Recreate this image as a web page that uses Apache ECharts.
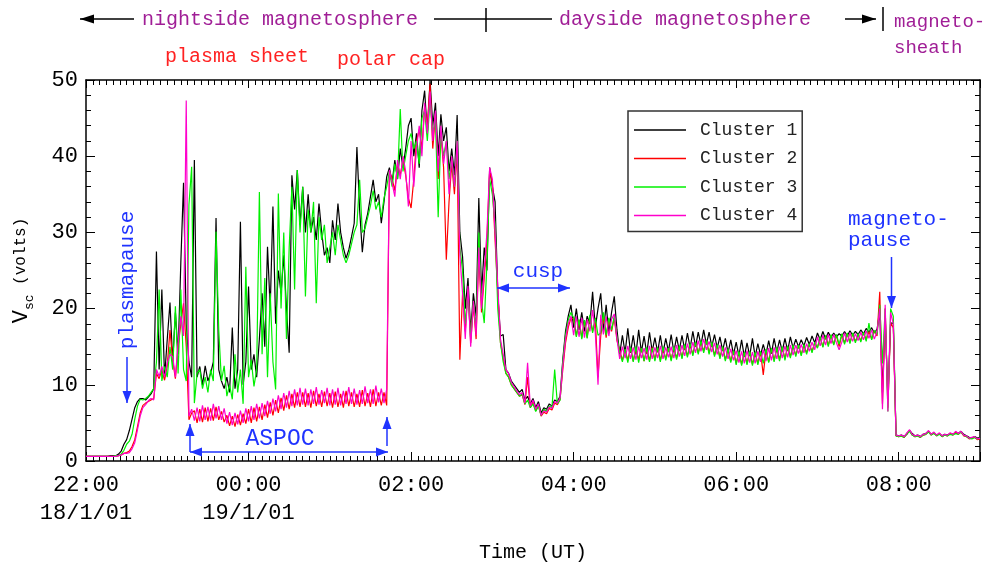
<!DOCTYPE html>
<html>
<head>
<meta charset="utf-8">
<script src="https://cdn.jsdelivr.net/npm/echarts@6/dist/echarts.min.js"></script>
<style>
html,body{margin:0;padding:0;background:#ffffff;}
#chart{width:1002px;height:568px;}
</style>
</head>
<body>
<div id="chart"></div>
<script>
// ---------------- data ----------------
// samples every 2 minutes starting at 22:00 UT on 18/1/01 (x = minutes after 22:00)
const SAMPLE_STEP_MIN = 2;
const seriesNames = ['Cluster 1', 'Cluster 2', 'Cluster 3', 'Cluster 4'];
const seriesColors = ['#000000', '#ff0000', '#00f000', '#ff00cc'];
const tickLabels = ['22:00\n18/1/01', '00:00\n19/1/01', '02:00', '04:00', '06:00', '08:00'];
const yTickLabels = ['0', '10', '20', '30', '40', '50'];

const cluster1 = [
  0.6,0.6,0.6,0.6,0.6,0.6,0.6,0.6,0.6,0.7,
  0.7,0.7,0.9,1.3,2.2,2.8,4.0,5.5,7.0,7.8,
  8.2,8.2,8.0,8.4,8.8,9.5,27.5,12.0,22.5,11.0,
  16.0,20.8,13.0,19.5,14.0,26.0,36.5,18.0,13.0,11.0,
  39.5,11.0,12.4,10.0,12.5,10.5,11.5,13.0,31.9,12.0,
  10.5,9.5,11.0,9.0,17.5,9.5,12.0,31.4,10.0,13.0,
  22.9,12.0,14.0,11.0,16.0,22.0,15.0,28.1,20.0,33.4,
  18.0,25.0,22.0,27.0,20.0,14.2,37.5,33.0,38.2,31.0,
  36.0,30.0,35.0,30.0,32.0,29.0,33.8,30.0,27.0,28.0,
  26.0,31.6,29.0,33.8,30.0,28.0,26.6,27.7,29.4,31.2,
  41.2,33.0,27.4,31.0,32.5,34.7,36.9,34.0,35.0,31.2,
  34.0,37.3,38.5,36.5,39.5,37.0,41.0,38.5,41.0,44.0,
  45.0,40.0,43.0,38.5,46.0,48.6,43.0,50.0,44.0,47.0,
  40.0,45.5,42.0,43.8,38.0,41.0,37.5,45.4,30.0,26.8,
  20.0,24.0,17.0,22.0,19.0,34.5,22.0,28.0,25.0,38.5,
  36.0,34.0,22.0,16.4,16.6,12.0,11.5,10.5,10.0,9.5,
  9.0,9.4,8.0,8.5,7.5,8.2,7.0,7.8,6.3,7.0,
  6.8,7.5,7.2,8.0,7.8,8.5,13.3,17.0,19.0,20.5,
  17.5,20.0,17.2,19.5,17.0,19.0,18.0,22.2,17.5,20.0,
  22.0,17.0,20.5,16.8,19.5,21.6,17.2,14.0,16.5,14.2,
  17.4,14.2,16.5,14.0,17.2,14.3,16.4,14.1,16.9,14.4,
  16.2,14.3,16.5,14.2,16.1,14.4,16.6,14.3,16.3,14.5,
  16.5,14.6,16.8,14.8,17.0,15.0,16.9,15.2,17.2,15.3,
  16.9,15.0,16.6,14.8,16.3,14.5,16.1,14.2,15.9,14.0,
  15.6,13.8,15.9,13.7,15.5,13.8,16.1,13.7,15.4,13.9,
  15.3,14.0,15.8,14.1,16.1,14.3,15.9,14.4,16.1,14.5,
  16.3,14.8,16.0,15.0,15.9,15.1,16.2,15.3,16.4,15.5,
  16.8,15.9,17.0,16.0,16.9,16.2,16.8,16.3,16.7,16.4,
  17.0,16.4,17.1,16.5,17.0,16.6,17.2,16.7,17.4,16.9,
  17.5,16.8,17.3,19.5,9.0,19.0,8.0,18.1,18.1,3.4,
  3.3,3.4,3.2,3.5,4.0,3.6,3.3,3.4,3.2,3.5,
  3.6,3.9,3.5,3.7,3.4,3.6,3.3,3.5,3.4,3.6,
  3.5,3.7,3.6,3.9,3.5,3.3,3.1,3.0,3.2,3.0,
  3.1
];

const cluster2 = [
  0.6,0.6,0.6,0.6,0.6,0.6,0.6,0.6,0.6,0.6,
  0.6,0.6,0.7,0.8,1.0,1.1,1.3,1.9,2.8,4.5,
  6.3,7.3,7.6,7.8,8.0,8.2,11.5,10.8,12.0,10.6,
  12.5,17.2,13.2,10.8,15.0,18.0,20.7,15.0,5.4,6.3,
  6.6,5.0,6.8,5.1,7.0,5.2,6.9,5.3,7.1,5.4,
  6.5,5.1,6.0,4.6,5.9,4.5,6.1,4.7,6.2,4.9,
  6.8,5.0,7.0,5.2,7.1,5.4,7.4,5.7,7.7,6.0,
  8.0,6.3,8.3,6.6,8.6,6.8,8.8,7.0,9.0,7.1,
  9.0,7.1,8.9,7.0,9.2,7.2,8.8,7.1,9.1,7.2,
  8.9,7.0,9.1,7.1,8.8,7.0,9.2,7.2,9.0,7.1,
  8.8,7.1,9.3,7.2,8.9,7.1,9.4,7.2,9.0,7.3,
  9.0,7.3,38.0,37.0,35.5,39.0,37.5,39.5,37.5,34.5,
  33.2,37.0,42.0,43.5,41.0,46.5,44.0,49.5,41.0,45.5,
  37.0,43.0,38.5,26.4,34.0,39.0,35.0,41.0,13.3,22.0,
  17.0,22.5,15.5,20.5,16.0,27.0,19.5,24.0,29.0,38.0,
  36.5,29.0,22.0,15.5,13.5,11.5,11.0,10.0,9.5,9.0,
  8.5,8.7,7.4,11.0,7.0,7.8,6.6,7.3,5.9,6.4,
  6.2,6.9,6.7,7.6,7.4,8.1,12.0,15.5,17.5,18.8,
  18.6,16.4,18.5,16.2,18.3,16.2,19.0,17.0,18.5,11.0,
  16.4,18.9,16.2,18.7,17.0,18.8,15.8,14.5,13.2,14.6,
  13.2,14.8,13.1,14.7,13.3,14.8,13.1,14.6,13.2,14.9,
  13.3,14.8,13.2,14.7,13.4,14.8,13.3,14.9,13.5,14.9,
  13.6,15.1,13.8,15.3,14.0,15.5,14.2,15.6,14.4,15.8,
  14.2,15.5,13.9,15.2,13.6,14.9,13.3,14.6,13.1,14.4,
  12.8,14.3,12.7,14.2,12.8,14.3,12.7,14.2,12.8,14.3,
  11.3,14.6,13.0,14.7,13.2,14.8,13.3,14.9,13.4,15.0,
  13.7,15.1,13.9,15.1,14.0,15.2,14.2,15.3,14.4,15.5,
  14.9,16.2,15.0,16.4,15.2,16.5,15.3,16.5,15.0,16.6,
  15.5,16.7,15.6,16.7,15.7,16.6,15.8,16.8,15.9,17.0,
  16.0,17.1,16.4,22.2,7.5,20.0,7.0,18.1,17.5,3.3,
  3.2,3.3,3.1,3.6,4.0,3.4,3.2,3.3,3.1,3.4,
  3.5,3.9,3.4,3.7,3.3,3.6,3.2,3.4,3.3,3.6,
  3.4,3.8,3.5,3.8,3.3,3.2,2.9,3.0,3.1,2.8,
  2.9
];

const cluster3 = [
  0.6,0.6,0.6,0.6,0.6,0.6,0.6,0.6,0.6,0.6,
  0.6,0.7,0.7,0.9,1.4,2.2,2.6,3.5,5.5,7.2,
  8.1,8.0,8.2,8.5,9.0,9.5,13.0,22.5,10.5,12.4,
  11.0,15.0,12.0,20.3,11.5,22.5,12.0,10.5,33.6,38.6,
  7.6,11.5,12.0,9.5,11.0,9.0,12.0,10.5,30.1,17.2,
  10.5,12.5,8.5,10.0,8.1,14.0,9.0,12.0,7.5,25.5,
  11.0,13.3,9.8,12.0,35.3,14.0,24.0,11.0,22.0,13.0,
  9.4,35.1,20.0,30.0,16.0,28.0,36.0,22.5,38.2,30.0,
  36.0,21.6,33.0,30.0,34.0,20.7,32.0,29.0,31.0,26.0,
  28.0,30.0,27.0,31.0,29.0,27.0,26.0,27.0,28.5,30.0,
  31.0,36.9,30.0,30.5,32.0,33.5,35.5,33.0,34.0,32.0,
  34.5,36.0,38.0,36.0,39.0,37.0,46.2,38.0,40.0,42.0,
  43.0,41.0,42.0,39.0,45.0,46.0,42.0,47.5,43.0,45.0,
  32.0,43.0,40.0,42.0,37.0,39.5,36.0,42.0,28.0,25.0,
  18.0,22.0,16.0,21.0,17.5,30.0,21.0,18.1,26.0,37.0,
  35.0,31.0,20.0,15.5,13.0,11.5,11.0,10.0,9.5,9.0,
  8.5,8.8,7.5,8.0,7.0,7.5,6.5,7.2,6.0,6.8,
  6.5,7.2,7.0,12.0,7.5,8.0,13.0,16.5,18.5,19.5,
  18.8,16.3,18.6,16.0,18.5,16.1,19.2,16.8,18.8,16.5,
  16.8,19.5,16.5,18.8,17.2,19.0,16.2,14.3,13.0,14.7,
  12.9,14.9,13.0,15.0,12.9,14.8,13.1,14.9,13.0,14.8,
  13.1,14.9,13.0,15.0,13.2,14.8,13.1,15.0,13.3,15.1,
  13.4,15.3,13.6,15.4,13.8,15.6,14.0,15.8,14.2,15.9,
  14.0,15.6,13.7,15.3,13.4,15.0,13.1,14.7,12.9,14.5,
  12.6,14.4,12.5,14.3,12.6,14.4,12.5,14.3,12.6,14.4,
  12.8,14.7,12.9,14.8,13.0,14.9,13.1,15.0,13.2,15.1,
  13.5,15.2,13.7,15.2,13.8,15.3,14.0,15.4,14.2,15.6,
  14.8,16.3,14.9,16.5,15.0,16.6,15.2,16.6,15.3,16.7,
  15.3,16.8,15.4,16.8,15.5,16.7,15.6,16.9,15.7,18.1,
  15.9,17.1,16.6,20.5,12.8,20.0,6.5,20.0,19.0,3.3,
  3.2,3.3,3.1,3.6,3.9,3.4,3.2,3.3,3.1,3.4,
  3.5,3.8,3.4,3.6,3.3,3.5,3.2,3.4,3.3,3.5,
  3.4,3.6,3.5,3.8,3.4,3.2,3.0,2.9,3.1,2.9,
  3.0
];

const cluster4 = [
  0.6,0.6,0.6,0.6,0.6,0.6,0.6,0.6,0.6,0.6,
  0.6,0.6,0.7,0.8,1.0,1.0,1.1,1.6,2.4,4.1,
  5.9,7.0,7.4,7.9,8.2,8.0,12.0,11.1,12.4,11.0,
  12.9,14.0,13.7,11.0,15.5,19.0,16.4,47.3,5.9,6.8,
  5.3,7.0,5.2,7.3,5.4,7.1,5.3,7.5,5.6,7.2,
  5.4,6.9,4.9,6.4,4.7,6.3,4.8,6.6,5.0,6.9,
  5.2,7.2,5.4,7.5,5.6,7.6,5.9,7.9,6.2,8.2,
  6.5,8.6,6.8,8.9,7.0,9.2,7.2,9.4,7.3,9.6,
  7.4,9.5,7.3,9.4,7.5,9.7,7.4,9.3,7.6,9.6,
  7.3,9.4,7.4,9.6,7.3,9.2,7.5,9.7,7.5,9.5,
  7.4,9.3,7.5,9.8,7.6,9.4,7.5,9.9,7.7,9.5,
  7.6,9.4,38.2,36.5,34.7,39.5,37.0,40.0,38.0,33.4,
  42.0,36.0,41.0,44.0,40.0,47.0,43.0,48.5,42.0,46.0,
  38.0,44.0,39.0,42.0,35.0,40.0,36.0,42.0,27.0,22.0,
  16.0,23.0,15.0,21.0,16.5,28.0,20.0,25.0,30.0,38.5,
  37.0,30.0,23.0,16.0,14.0,12.0,11.5,10.3,9.8,9.2,
  8.7,9.0,7.6,12.9,7.2,8.0,6.8,7.5,6.0,6.6,
  6.4,7.1,6.9,7.8,7.6,8.3,12.5,16.0,18.0,19.0,
  16.5,19.0,16.3,18.8,16.2,18.6,17.0,19.8,16.8,10.0,
  19.2,16.6,19.0,16.4,18.6,19.3,16.0,13.4,15.0,13.5,
  15.1,13.4,14.9,13.3,15.0,13.5,14.8,13.3,15.1,13.4,
  14.9,13.5,15.1,13.4,14.9,13.6,15.0,13.5,15.2,13.7,
  15.2,13.8,15.4,14.0,15.6,14.2,15.8,14.4,16.0,14.6,
  15.7,14.3,15.5,14.0,15.2,13.7,14.9,13.4,14.7,13.2,
  14.5,12.9,14.4,12.8,14.5,12.9,14.3,12.8,14.4,13.0,
  14.6,13.1,14.8,13.2,14.9,13.4,15.0,13.5,15.1,13.6,
  15.2,13.9,15.2,14.1,15.3,14.2,15.4,14.4,15.6,14.6,
  16.3,15.1,16.5,15.2,16.6,15.4,16.6,15.5,14.6,15.6,
  16.8,15.6,16.8,15.7,16.7,15.8,16.9,15.9,17.1,16.1,
  17.2,16.0,17.0,20.0,6.8,20.5,6.5,19.5,18.0,3.4,
  3.3,3.4,3.2,3.7,4.1,3.5,3.3,3.4,3.2,3.5,
  3.6,4.0,3.5,3.8,3.4,3.7,3.3,3.5,3.4,3.7,
  3.5,3.9,3.6,3.9,3.4,3.3,3.0,3.1,3.2,2.9,
  3.0
];

const seriesValues = [cluster1, cluster2, cluster3, cluster4];

// ---------------- chart ----------------
const FONT = '"Liberation Mono", "DejaVu Sans Mono", monospace';
const PURPLE = '#a01e96';
const RED = '#ff2222';
const BLUE = '#1f33ff';

const chart = echarts.init(document.getElementById('chart'), null, {renderer: 'canvas'});

function toPairs(values) {
  return values.map((v, i) => [i * SAMPLE_STEP_MIN, v]);
}

function arrowHead(tipX, tipY, fromX, fromY, color, len, hw) {
  const dx = tipX - fromX, dy = tipY - fromY;
  const d = Math.sqrt(dx * dx + dy * dy);
  const ux = dx / d, uy = dy / d;
  const bx = tipX - ux * len, by = tipY - uy * len;
  const nx = -uy, ny = ux;
  return {
    type: 'polygon', silent: true, z: 100,
    shape: {points: [[tipX, tipY], [bx + nx * hw, by + ny * hw], [bx - nx * hw, by - ny * hw]]},
    style: {fill: color}
  };
}
function seg(x1, y1, x2, y2, color, w) {
  return {type: 'line', silent: true, z: 100, shape: {x1, y1, x2, y2}, style: {stroke: color, lineWidth: w || 1.5}};
}
function arrow(x1, y1, x2, y2, color, both, len, hw) {
  len = len || 12; hw = hw || 4.5;
  const out = [seg(x1, y1, x2, y2, color)];
  out.push(arrowHead(x2, y2, x1, y1, color, len, hw));
  if (both) out.push(arrowHead(x1, y1, x2, y2, color, len, hw));
  return out;
}
function txt(text, x, y, color, size, align, rot) {
  const el = {
    type: 'text', silent: true, z: 100, x, y,
    style: {text, fill: color, font: size + 'px ' + FONT, align: align || 'left', verticalAlign: 'middle'}
  };
  if (rot) { el.rotation = rot; }
  return el;
}

const graphics = [].concat(
  // top region labels
  arrow(134, 19, 80, 19, '#000', false, 14, 4.5),
  [txt('nightside magnetosphere', 142, 20, PURPLE, 20)],
  [seg(434, 19, 552, 19, '#000'), seg(486, 8, 486, 32, '#000')],
  [txt('dayside magnetosphere', 559, 20, PURPLE, 20)],
  arrow(845, 19, 876, 19, '#000', false, 14, 4.5),
  [seg(883, 7, 883, 31, '#000')],
  [txt('magneto-', 894, 22, PURPLE, 19), txt('sheath', 894, 48, PURPLE, 19)],
  [txt('plasma sheet', 165, 57, RED, 20), txt('polar cap', 337, 60, RED, 20)],
  // plasmapause
  [txt('plasmapause', 127, 280, BLUE, 21, 'center', Math.PI / 2)],
  arrow(127, 357, 127, 403, BLUE),
  // ASPOC
  [txt('ASPOC', 280, 439, BLUE, 23, 'center')],
  arrow(190, 452, 388, 452, BLUE, true),
  arrow(190, 452, 190, 424, BLUE),
  arrow(387, 446, 387, 417, BLUE),
  // cusp
  [txt('cusp', 538, 271, BLUE, 21, 'center')],
  arrow(497, 288, 570, 288, BLUE, true),
  // magnetopause
  [txt('magneto-', 848, 219, BLUE, 21), txt('pause', 848, 240, BLUE, 21)],
  arrow(891.5, 257, 891.5, 308, BLUE)
);

const axisLineStyle = {color: '#000', width: 1.5};
const tickLine = {color: '#000', width: 1};

const option = {
  animation: false,
  backgroundColor: '#ffffff',
  textStyle: {fontFamily: FONT},
  grid: {left: 86, right: 22, top: 80, bottom: 105, containLabel: false},
  legend: {
    data: seriesNames,
    orient: 'vertical',
    left: 628, top: 111,
    icon: 'rect',
    itemWidth: 52, itemHeight: 1.6, itemGap: 10.5,
    padding: [10, 5, 7, 6],
    borderColor: '#333', borderWidth: 1.5, backgroundColor: '#ffffff',
    selectedMode: false,
    textStyle: {fontFamily: FONT, fontSize: 18, color: '#222', lineHeight: 18, padding: [0, 0, 0, 9]}
  },
  xAxis: [
    {
      type: 'value', position: 'bottom', min: 0, max: 660, interval: 60,
      axisLine: {show: true, lineStyle: axisLineStyle, onZero: false},
      axisTick: {show: true, inside: true, length: 5, lineStyle: tickLine},
      minorTick: {show: true, splitNumber: 12, length: 5, lineStyle: tickLine},
      axisLabel: {show: false}, splitLine: {show: false}
    },
    {
      type: 'value', position: 'bottom', min: 0, max: 660, interval: 120,
      axisLine: {show: false, onZero: false},
      axisTick: {show: true, inside: true, length: 9, lineStyle: tickLine},
      axisLabel: {
        show: true, margin: 10, color: '#000', fontFamily: FONT, fontSize: 22, lineHeight: 28,
        formatter: function (v) { const k = Math.round(v / 120); return (v % 120 === 0 && tickLabels[k]) ? tickLabels[k] : ''; }
      },
      splitLine: {show: false},
      name: 'Time (UT)', nameLocation: 'middle', nameGap: 82,
      nameTextStyle: {fontFamily: FONT, fontSize: 20, color: '#000'}
    },
    {
      type: 'value', position: 'top', min: 0, max: 660, interval: 60,
      axisLine: {show: true, lineStyle: axisLineStyle, onZero: false},
      axisTick: {show: true, inside: true, length: 5, lineStyle: tickLine},
      minorTick: {show: true, splitNumber: 12, length: 5, lineStyle: tickLine},
      axisLabel: {show: false}, splitLine: {show: false}
    },
    {
      type: 'value', position: 'top', min: 0, max: 660, interval: 120,
      axisLine: {show: false, onZero: false},
      axisTick: {show: true, inside: true, length: 8, lineStyle: tickLine},
      axisLabel: {show: false}, splitLine: {show: false}
    }
  ],
  yAxis: [
    {
      type: 'value', position: 'left', min: 0, max: 50, interval: 10,
      axisLine: {show: true, lineStyle: axisLineStyle, onZero: false},
      axisTick: {show: true, inside: true, length: 9, lineStyle: tickLine},
      minorTick: {show: true, splitNumber: 5, length: 5, lineStyle: tickLine},
      axisLabel: {
        show: true, margin: 8, color: '#000', fontFamily: FONT, fontSize: 22,
        formatter: function (v) { const k = Math.round(v / 10); return yTickLabels[k] !== undefined ? yTickLabels[k] : ''; }
      },
      splitLine: {show: false},
      name: '{v|V}{s|sc}{u| (volts)}', nameLocation: 'middle', nameRotate: 90, nameGap: 52,
      nameTextStyle: {
        color: '#000', fontFamily: FONT,
        rich: {
          v: {fontSize: 22, fontFamily: FONT, color: '#000', lineHeight: 26},
          s: {fontSize: 13, fontFamily: FONT, color: '#000', verticalAlign: 'bottom', lineHeight: 13, padding: [0, 0, -2, 0]},
          u: {fontSize: 16, fontFamily: FONT, color: '#000', lineHeight: 22}
        }
      }
    },
    {
      type: 'value', position: 'right', min: 0, max: 50, interval: 10,
      axisLine: {show: true, lineStyle: axisLineStyle, onZero: false},
      axisTick: {show: true, inside: true, length: 9, lineStyle: tickLine},
      minorTick: {show: true, splitNumber: 5, length: 5, lineStyle: tickLine},
      axisLabel: {show: false}, splitLine: {show: false}
    }
  ],
  series: seriesNames.map((name, i) => ({
    name: name,
    type: 'line',
    xAxisIndex: 0, yAxisIndex: 0,
    data: toPairs(seriesValues[i]),
    symbol: 'none', showSymbol: false,
    sampling: null,
    z: 2 + i,
    lineStyle: {color: seriesColors[i], width: 1.2},
    itemStyle: {color: seriesColors[i]}
  })),
  graphic: graphics
};

chart.setOption(option);
</script>
</body>
</html>
